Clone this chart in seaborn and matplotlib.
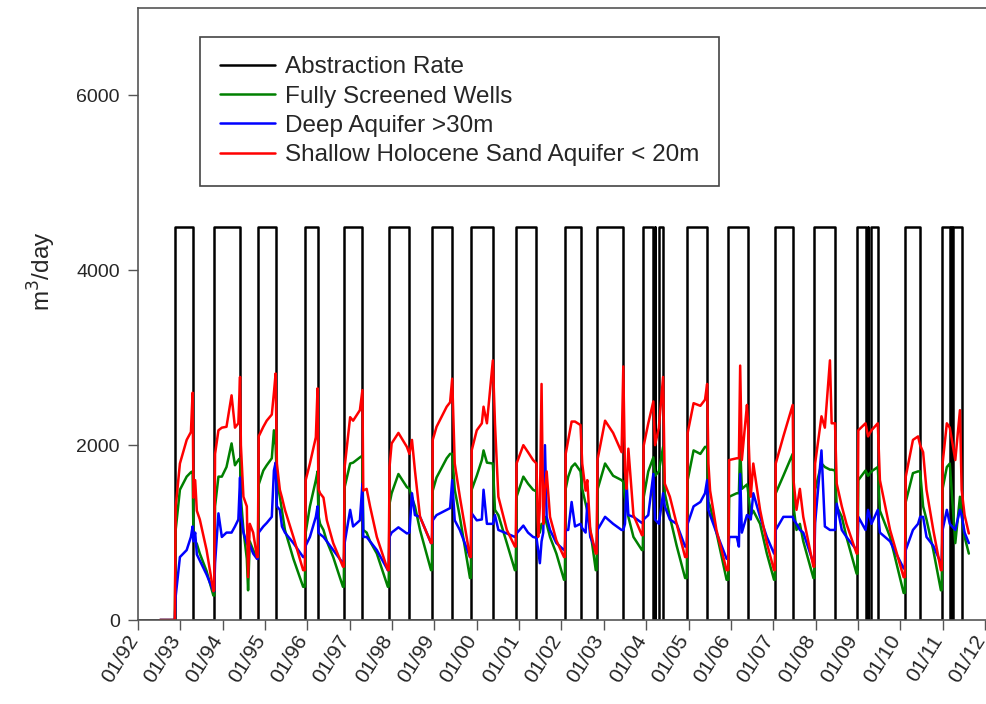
import matplotlib
matplotlib.use("Agg")
import matplotlib.pyplot as plt
import matplotlib.transforms as mtransforms
import seaborn as sns

# Abstraction rate: switch times (decimal years) and the rate after each switch
abstraction_years = [1992.00, 1992.87, 1993.29, 1993.80, 1994.41, 1994.83, 1995.25, 1995.94, 1996.24,
                     1996.86, 1997.30, 1997.92, 1998.41, 1998.94, 1999.42, 1999.86, 2000.38,
                     2000.92, 2001.41, 2002.08, 2002.45, 2002.83, 2003.46, 2003.92, 2004.17,
                     2004.20, 2004.22, 2004.30, 2004.40, 2004.96, 2005.44, 2005.94, 2006.40,
                     2007.04, 2007.46, 2007.97, 2008.46, 2008.99, 2009.18, 2009.23, 2009.25,
                     2009.32, 2009.47, 2010.11, 2010.47, 2010.98, 2011.17, 2011.20, 2011.22,
                     2011.25, 2011.45, 2011.47]
abstraction_rate = [0, 4500, 0, 4500, 0, 4500, 0, 4500, 0,
                    4500, 0, 4500, 0, 4500, 0, 4500, 0,
                    4500, 0, 4500, 0, 4500, 0, 4500, 0,
                    4500, 0, 4500, 0, 4500, 0, 4500, 0,
                    4500, 0, 4500, 0, 4500, 0, 4500, 0,
                    4500, 0, 4500, 0, 4500, 0, 4500, 0,
                    4500, 0, 0]

# Well flows, one row per pumping season
well_years = [
    1992.52,
    1992.87, 1992.89, 1992.99, 1993.15, 1993.25, 1993.29, 1993.31, 1993.35, 1993.39, 1993.46, 1993.62, 1993.78,
    1993.80, 1993.82, 1993.90, 1993.98, 1994.09, 1994.21, 1994.29, 1994.37, 1994.41, 1994.43, 1994.49, 1994.57, 1994.60, 1994.64, 1994.72, 1994.81,
    1994.83, 1994.85, 1994.96, 1995.04, 1995.16, 1995.21, 1995.25, 1995.28, 1995.35, 1995.40, 1995.47, 1995.67, 1995.90,
    1995.94, 1995.96, 1996.06, 1996.20, 1996.24, 1996.26, 1996.30, 1996.38, 1996.46, 1996.61, 1996.84,
    1996.86, 1996.88, 1997.01, 1997.08, 1997.24, 1997.30, 1997.32, 1997.40, 1997.48, 1997.64, 1997.90,
    1997.92, 1997.94, 1997.99, 1998.15, 1998.35, 1998.41, 1998.47, 1998.54, 1998.66, 1998.92,
    1998.94, 1998.96, 1999.05, 1999.29, 1999.37, 1999.42, 1999.48, 1999.60, 1999.84,
    1999.86, 1999.88, 2000.00, 2000.12, 2000.16, 2000.24, 2000.38, 2000.43, 2000.51, 2000.71, 2000.90,
    2000.92, 2000.94, 2001.10, 2001.21, 2001.33, 2001.41, 2001.45, 2001.49, 2001.53, 2001.57, 2001.61, 2001.65, 2001.73, 2001.88, 2002.06,
    2002.08, 2002.10, 2002.16, 2002.24, 2002.32, 2002.45, 2002.49, 2002.57, 2002.61, 2002.68, 2002.81,
    2002.83, 2002.85, 2003.03, 2003.22, 2003.42, 2003.46, 2003.50, 2003.54, 2003.58, 2003.70, 2003.90,
    2003.92, 2003.94, 2004.05, 2004.17, 2004.21, 2004.30, 2004.40, 2004.44, 2004.56, 2004.72, 2004.92,
    2004.96, 2004.98, 2005.12, 2005.28, 2005.39, 2005.44, 2005.47, 2005.51, 2005.66, 2005.90,
    2005.94, 2005.96, 2006.14, 2006.19, 2006.22, 2006.26, 2006.38, 2006.40, 2006.47, 2006.53, 2006.69, 2006.85, 2007.02,
    2007.04, 2007.06, 2007.24, 2007.46, 2007.48, 2007.55, 2007.63, 2007.71, 2007.95,
    2007.97, 2007.99, 2008.14, 2008.22, 2008.34, 2008.38, 2008.46, 2008.50, 2008.62, 2008.73, 2008.97,
    2008.99, 2009.01, 2009.18, 2009.24, 2009.32, 2009.47, 2009.52, 2009.76, 2010.08,
    2010.11, 2010.13, 2010.30, 2010.42, 2010.47, 2010.54, 2010.62, 2010.78, 2010.96,
    2010.98, 2011.00, 2011.10, 2011.17, 2011.30, 2011.41, 2011.45, 2011.52, 2011.62,
]
fully_screened = [
    0,
    0, 1030, 1490, 1640, 1690, 1700, 950, 900, 870, 760, 560, 280,
    280, 1300, 1640, 1640, 1750, 2020, 1770, 1830, 1850, 1400, 1030, 700, 340, 900, 800, 720,
    720, 1550, 1710, 1770, 1850, 2170, 2000, 1600, 1410, 1250, 1030, 700, 380,
    380, 1000, 1300, 1600, 1700, 1200, 1100, 1030, 900, 720, 380,
    380, 1520, 1790, 1800, 1860, 1880, 1030, 1000, 900, 760, 380,
    380, 1330, 1450, 1670, 1520, 1500, 1400, 1300, 1030, 570,
    570, 1480, 1630, 1850, 1900, 1900, 1490, 1180, 480,
    480, 1490, 1650, 1830, 1940, 1800, 1790, 1260, 1200, 880, 570,
    570, 1410, 1640, 1560, 1490, 1470, 1050, 1000, 1100, 1100, 1180, 1100, 950, 760, 460,
    460, 1500, 1640, 1750, 1790, 1700, 1500, 1330, 1250, 1030, 570,
    570, 1490, 1790, 1650, 1600, 1580, 1400, 1300, 1180, 950, 800,
    800, 1400, 1700, 1860, 1650, 1700, 1980, 1450, 1180, 850, 480,
    480, 1600, 1940, 1900, 1980, 1980, 1350, 1300, 1000, 460,
    460, 1410, 1450, 1450, 2000, 1500, 1550, 1500, 1200, 1250, 1100, 760, 460,
    460, 1450, 1650, 1900, 1300, 1030, 1100, 900, 480,
    480, 1490, 1790, 1750, 1720, 1720, 1710, 1300, 1180, 950, 530,
    530, 1600, 1710, 1650, 1700, 1750, 1250, 950, 310,
    310, 1350, 1680, 1700, 1700, 1300, 1150, 800, 340,
    340, 1500, 1750, 1790, 880, 1410, 1200, 950, 760,
]
deep_aquifer = [
    0,
    0, 270, 720, 800, 950, 1070, 900, 1000, 750, 680, 520, 330,
    330, 650, 1220, 950, 1000, 1000, 1070, 1150, 1630, 1200, 1000, 880, 850, 860, 760, 700,
    700, 1000, 1070, 1110, 1180, 1710, 1800, 1300, 1260, 1070, 1000, 880, 720,
    720, 850, 950, 1180, 1300, 1000, 980, 950, 900, 800, 650,
    650, 880, 1260, 1070, 1140, 1560, 950, 950, 900, 800, 570,
    570, 950, 1000, 1060, 990, 1000, 1450, 1200, 1180, 880,
    880, 1140, 1200, 1260, 1280, 1600, 1140, 1030, 720,
    720, 1220, 1140, 1150, 1490, 1100, 1100, 1200, 1030, 990, 950,
    950, 990, 1080, 1000, 950, 940, 800, 650, 900, 1000, 2000, 1180, 1030, 880, 800,
    800, 1030, 1030, 1350, 1070, 1100, 1050, 1000, 1330, 950, 800,
    800, 1030, 1180, 1100, 1030, 1030, 1100, 1560, 1200, 1180, 1110,
    1110, 1150, 1200, 1670, 1150, 1100, 1450, 1300, 1150, 1100, 840,
    840, 1100, 1300, 1350, 1450, 1600, 1260, 1200, 1000, 700,
    700, 950, 950, 840, 1670, 1000, 1200, 1200, 1150, 1450, 1180, 950, 760,
    760, 1030, 1180, 1180, 1150, 1100, 1030, 1000, 650,
    650, 1110, 1940, 1070, 1030, 1030, 1030, 1330, 1030, 950, 800,
    800, 1180, 1030, 1260, 1100, 1260, 1000, 900, 590,
    590, 800, 1030, 1100, 1180, 1180, 950, 850, 650,
    650, 1030, 1260, 1100, 1030, 1260, 1200, 1000, 880,
]
shallow_sand = [
    0,
    0, 1290, 1790, 2060, 2150, 2600, 1400, 1600, 1250, 1150, 800, 330,
    340, 1900, 2170, 2200, 2210, 2570, 2200, 2250, 2780, 2000, 1410, 1300, 490, 1100, 1000, 720,
    720, 2100, 2210, 2280, 2350, 2600, 2820, 1790, 1490, 1400, 1260, 950, 570,
    570, 1600, 1790, 2090, 2650, 1500, 1450, 1400, 1140, 880, 610,
    610, 1750, 2320, 2280, 2400, 2630, 1480, 1500, 1300, 950, 570,
    570, 1750, 2020, 2140, 1980, 1900, 2060, 1710, 1180, 880,
    880, 2060, 2210, 2440, 2490, 2760, 1790, 1410, 720,
    720, 1940, 2170, 2250, 2440, 2250, 2970, 2250, 1410, 1030, 840,
    840, 1790, 2000, 1920, 1830, 1790, 950, 1300, 2700, 1100, 1490, 1700, 1180, 910, 720,
    720, 1900, 2060, 2270, 2270, 2230, 1790, 1480, 1600, 1030, 760,
    760, 1830, 2280, 2140, 1920, 2900, 1700, 1500, 1960, 1200, 970,
    970, 1990, 2250, 2500, 2000, 2200, 2780, 1560, 1410, 1100, 720,
    720, 2140, 2480, 2450, 2520, 2700, 1790, 1480, 1030, 570,
    570, 1830, 1850, 1850, 2910, 1830, 2460, 2300, 1410, 1790, 1260, 880, 570,
    570, 1790, 2100, 2460, 1600, 1260, 1500, 1180, 610,
    610, 1790, 2330, 2200, 2970, 2250, 2250, 1560, 1300, 1100, 760,
    760, 2170, 2250, 2100, 2170, 2250, 1600, 1030, 490,
    490, 1640, 2060, 2100, 2000, 1920, 1490, 1030, 570,
    570, 1790, 2250, 2200, 1830, 2400, 1490, 1200, 990,
]

year_ticks = list(range(1992, 2013))
year_labels = ["01/92", "01/93", "01/94", "01/95", "01/96", "01/97", "01/98", "01/99", "01/00",
               "01/01", "01/02", "01/03", "01/04", "01/05", "01/06", "01/07", "01/08", "01/09",
               "01/10", "01/11", "01/12"]

sns.set_style("ticks")
plt.rcParams["font.family"] = ["Liberation Sans", "DejaVu Sans"]

fig = plt.figure(figsize=(9.87, 7.04), dpi=100)
ax = fig.add_axes([0.1398, 0.1193, 0.8624, 0.8693])

lw = 1.8
sns.lineplot(x=abstraction_years, y=abstraction_rate, ax=ax, color="black", lw=lw,
             drawstyle="steps-post", estimator=None, sort=False, label="Abstraction Rate")
sns.lineplot(x=well_years, y=fully_screened, ax=ax, color="#008000", lw=lw,
             estimator=None, sort=False, label="Fully Screened Wells")
sns.lineplot(x=well_years, y=deep_aquifer, ax=ax, color="#0000ff", lw=lw,
             estimator=None, sort=False, label="Deep Aquifer >30m")
sns.lineplot(x=well_years, y=shallow_sand, ax=ax, color="#ff0000", lw=lw,
             estimator=None, sort=False, label="Shallow Holocene Sand Aquifer < 20m")

ax.set_xlim(1992, 2012.1)
ax.set_ylim(0, 7000)
ax.set_yticks([0, 2000, 4000, 6000])
ax.set_xticks(year_ticks)
ax.set_xticklabels(year_labels, rotation=58, ha="right", va="center", rotation_mode="anchor")
ax.tick_params(axis="both", labelsize=14, length=7, width=1, color="#555555", pad=6)
ax.tick_params(axis="x", labelsize=15, pad=5)
shift = mtransforms.ScaledTranslation(-3 / 72, 0, fig.dpi_scale_trans)
for lab in ax.get_xticklabels():
    lab.set_transform(lab.get_transform() + shift)
for side in ["left", "bottom", "top", "right"]:
    ax.spines[side].set_color("#555555")
    ax.spines[side].set_linewidth(1.2)

ax.set_xlabel("")
ax.set_ylabel("m$^3$/day", fontsize=17.5)
ax.yaxis.set_label_coords(-0.094, 0.570)

leg = ax.legend(loc="upper left", bbox_to_anchor=(0.073, 0.953), fontsize=17.5,
                frameon=True, fancybox=False, edgecolor="#444444", framealpha=1,
                handlelength=2.3, handletextpad=0.41, labelspacing=0.3, borderpad=0.8,
                borderaxespad=0)
leg.get_frame().set_linewidth(1.2)

fig.savefig("out.png", dpi=100)
